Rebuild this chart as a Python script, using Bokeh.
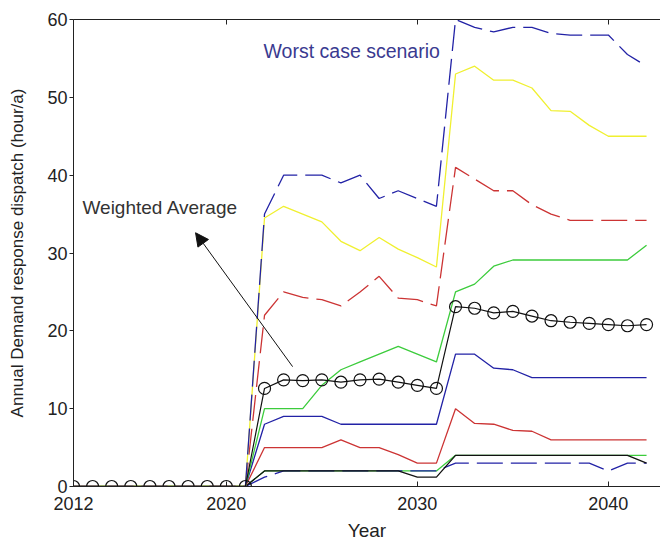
from bokeh.plotting import figure
from bokeh.models import Range1d, LinearAxis, FixedTicker, Arrow, NormalHead
from bokeh.core.properties import value
from bokeh.embed import file_html
from bokeh.resources import INLINE

years = list(range(2012, 2043))
zeros = [0] * 10  # 2012-2021

worst_case = zeros + [35, 40, 40, 40, 39, 40, 37, 38, 37, 36,
                      60, 59, 58.4, 59, 59, 58.2, 58, 58, 58, 55.5, 54]
yellow_case = zeros + [34.5, 36, 35, 34, 31.5, 30.3, 32, 30.5, 29.4, 28.2,
                       53, 54, 52.2, 52.2, 51.2, 48.3, 48.2, 46.4, 45, 45, 45]
red_dash_case = zeros + [22, 25, 24.3, 24, 23.2, 25, 27, 24.2, 24, 23.2,
                         41, 39.5, 38, 38, 36.2, 35, 34.2, 34.2, 34.2, 34.2, 34.2]
green_case = zeros + [10, 10, 10, 13, 15, 16, 17, 18, 17, 16,
                      25, 26, 28.3, 29.1, 29.1, 29.1, 29.1, 29.1, 29.1, 29.1, 31]
blue_case = zeros + [8, 9, 9, 9, 8, 8, 8, 8, 8, 8,
                     17, 17, 15.2, 15, 14, 14, 14, 14, 14, 14, 14]
red_case = zeros + [5, 5, 5, 5, 6, 5, 5, 4.1, 3, 3,
                    10, 8.1, 8, 7.2, 7.1, 6, 6, 6, 6, 6, 6]
green_low = zeros + [2, 2, 2, 2, 2, 2, 2, 2, 2, 2,
                     4, 4, 4, 4, 4, 4, 4, 4, 4, 4, 4]
blue_low = zeros + [1.2, 2, 2, 2, 2, 2, 2, 2, 2, 2,
                    3, 3, 3, 3, 3, 3, 3, 3, 2, 3, 3]
black_low = zeros + [2, 2, 2, 2, 2, 2, 2, 2, 1.2, 1.2,
                     4, 4, 4, 4, 4, 4, 4, 4, 4, 4, 3]
weighted_avg = zeros + [12.6, 13.7, 13.6, 13.7, 13.4, 13.7, 13.8, 13.4, 13.0, 12.6,
                        23.1, 22.9, 22.3, 22.5, 21.9, 21.3, 21.1, 20.95, 20.8, 20.65, 20.8]

x_ticks = [2012, 2020, 2030, 2040]
y_ticks = [0, 10, 20, 30, 40, 50, 60]

BLUE = "#2222a6"
RED = "#cc3434"
GREEN = "#3ccc3c"
YELLOW = "#f0f030"
BLACK = "#111111"
AXIS = "#222222"
FONT = "Liberation Sans"

p = figure(width=660, height=544,
           x_range=Range1d(2012, 2042.73), y_range=Range1d(0, 60),
           output_backend="svg", toolbar_location=None,
           min_border_left=73, min_border_right=0,
           min_border_top=19, min_border_bottom=58)
p.background_fill_color = "white"
p.border_fill_color = "white"
p.outline_line_color = None
p.grid.visible = False

for ax in (p.xaxis[0], p.yaxis[0]):
    ax.axis_line_color = AXIS
    ax.major_tick_line_color = AXIS
    ax.minor_tick_line_color = None
    ax.major_label_text_font = FONT
    ax.major_label_text_font_size = "18px"
    ax.major_label_text_color = AXIS
    ax.axis_label_text_font = FONT
    ax.axis_label_text_font_style = "normal"
    ax.axis_label_text_color = AXIS

p.xaxis.ticker = FixedTicker(ticks=x_ticks)
p.xaxis.major_tick_in = 5
p.xaxis.major_tick_out = 0
p.xaxis.major_label_standoff = 10
p.xaxis.axis_label = "Year"
p.xaxis.axis_label_text_font_size = "19px"
p.xaxis.axis_label_standoff = 7

p.yaxis.ticker = FixedTicker(ticks=y_ticks)
p.yaxis.major_tick_in = 0
p.yaxis.major_tick_out = 4
p.yaxis.major_label_standoff = 2
p.yaxis.axis_label = "Annual Demand response dispatch (hour/a)"
p.yaxis.axis_label_text_font_size = "17px"
p.yaxis.axis_label_standoff = 17

# box edge along the top, with inward ticks and no labels
top_axis = LinearAxis(ticker=FixedTicker(ticks=[], minor_ticks=x_ticks),
                      major_tick_in=0, major_tick_out=0,
                      minor_tick_in=5, minor_tick_out=0,
                      minor_tick_line_color=AXIS,
                      axis_line_color=AXIS)
p.add_layout(top_axis, "above")

dash = "26 8"
series = [
    (green_low, GREEN, "solid"),
    (blue_low, BLUE, dash),
    (black_low, BLACK, "solid"),
    (red_case, RED, "solid"),
    (blue_case, BLUE, "solid"),
    (green_case, GREEN, "solid"),
    (red_dash_case, RED, dash),
    (yellow_case, YELLOW, "solid"),
    (worst_case, BLUE, dash),
]
for vals, color, style in series:
    p.line(years, vals, line_color=color, line_width=1.3, line_dash=style)

p.line(years, weighted_avg, line_color=BLACK, line_width=1.2)
p.scatter(years, weighted_avg, marker="circle", size=12, fill_color=None,
          line_color=BLACK, line_width=1.2)

p.text(x=[2012.47], y=[35.9], text=["Weighted Average"],
       text_font=value(FONT), text_font_size="19px", text_color="#333333",
       text_align="left", text_baseline="middle")
p.text(x=[2021.95], y=[56.0], text=["Worst case scenario"],
       text_font=value(FONT), text_font_size="19.5px", text_color="#3a3a90",
       text_align="left", text_baseline="middle")

p.add_layout(Arrow(end=NormalHead(size=13, fill_color=BLACK, line_color=BLACK),
                   x_start=2023.47, y_start=15.4, x_end=2018.39, y_end=32.6,
                   line_color=BLACK, line_width=1))

open("out.html", "w").write(file_html(p, INLINE))
